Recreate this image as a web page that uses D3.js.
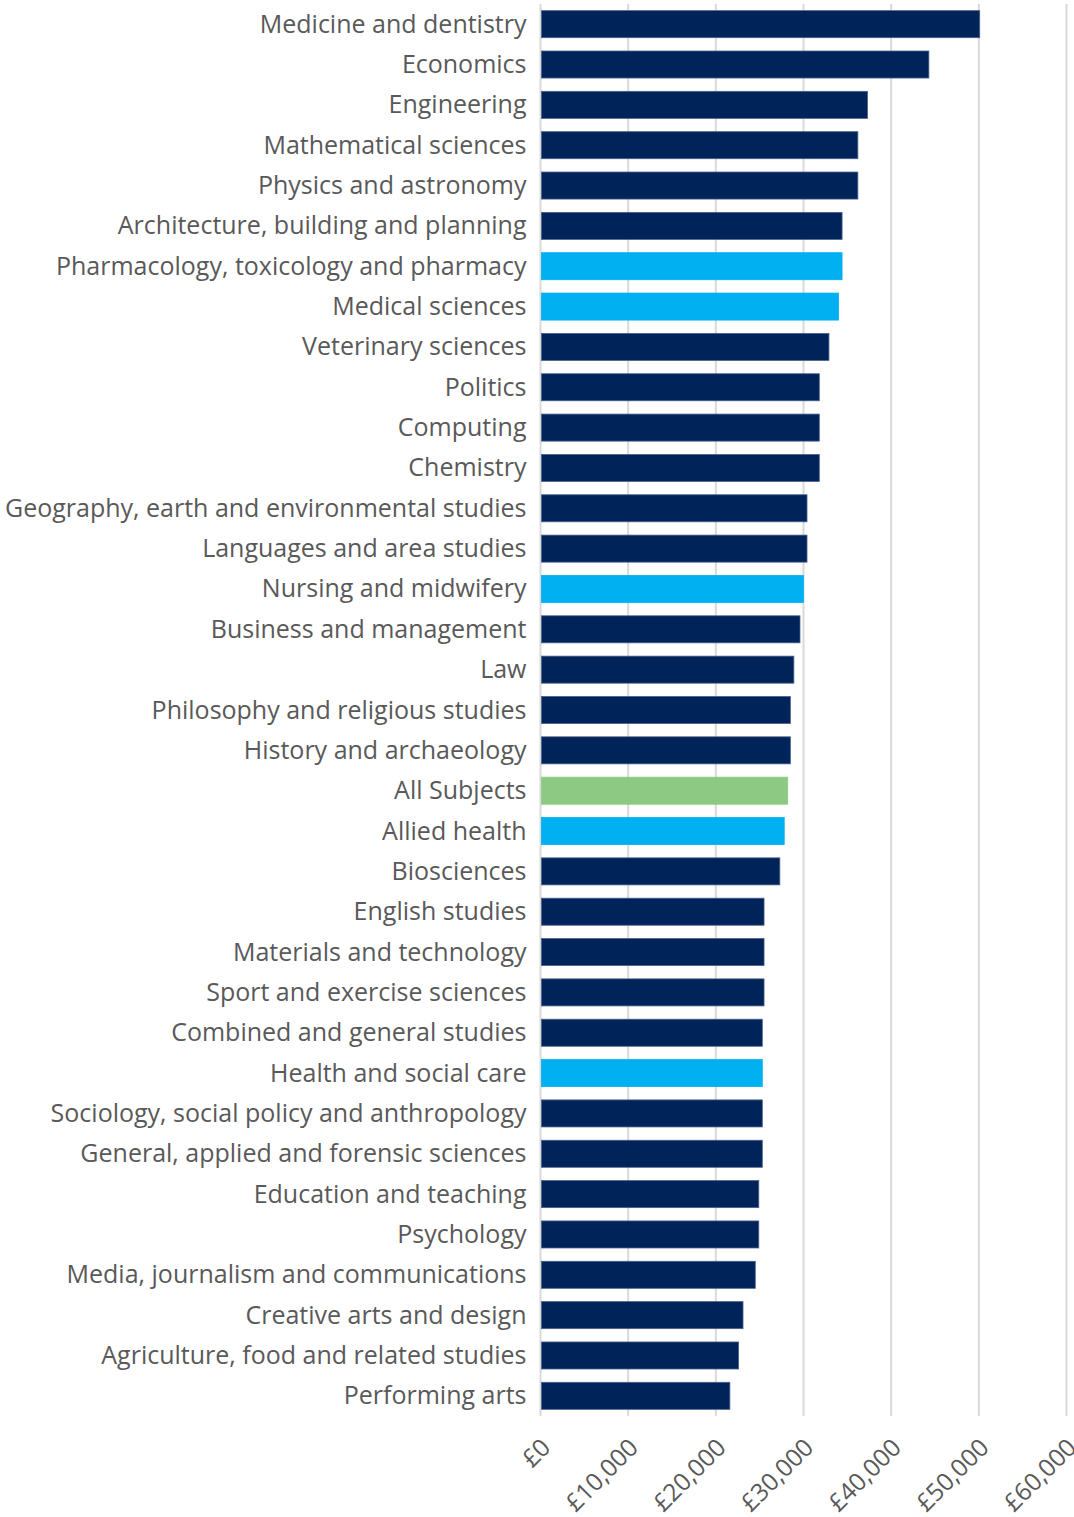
<!DOCTYPE html>
<html>
<head>
<meta charset="utf-8">
<script src="https://cdn.jsdelivr.net/npm/d3@7"></script>
<style>
  html, body { margin: 0; padding: 0; background: #fff; }
  svg { display: block; }
</style>
</head>
<body>
<svg id="chart" width="1074" height="1517"></svg>
<script>
// Median salary by subject area
const subjects = [
  "Medicine and dentistry", "Economics", "Engineering", "Mathematical sciences",
  "Physics and astronomy", "Architecture, building and planning",
  "Pharmacology, toxicology and pharmacy", "Medical sciences", "Veterinary sciences",
  "Politics", "Computing", "Chemistry", "Geography, earth and environmental studies",
  "Languages and area studies", "Nursing and midwifery", "Business and management",
  "Law", "Philosophy and religious studies", "History and archaeology", "All Subjects",
  "Allied health", "Biosciences", "English studies", "Materials and technology",
  "Sport and exercise sciences", "Combined and general studies", "Health and social care",
  "Sociology, social policy and anthropology", "General, applied and forensic sciences",
  "Education and teaching", "Psychology", "Media, journalism and communications",
  "Creative arts and design", "Agriculture, food and related studies", "Performing arts"
];

const salaries = [
  50100, 44300, 37300, 36200, 36200, 34400, 34400, 34000, 32900, 31800, 31800, 31800,
  30400, 30400, 30000, 29600, 28900, 28500, 28500, 28200, 27800, 27300, 25500, 25500,
  25500, 25300, 25300, 25300, 25300, 24900, 24900, 24500, 23100, 22600, 21600
];

// Subject groups: "health" subjects, the overall average, everything else
const groups = [
  "other", "other", "other", "other", "other", "other", "health", "health", "other",
  "other", "other", "other", "other", "other", "health", "other", "other", "other",
  "other", "all", "health", "other", "other", "other", "other", "other", "health",
  "other", "other", "other", "other", "other", "other", "other", "other"
];

const xTicks = [0, 10000, 20000, 30000, 40000, 50000, 60000];

const groupColor = { other: "#002359", health: "#00B0F0", all: "#8DC983" };
const groupStroke = { other: "#4a5f8c", health: "#00B0F0", all: "#8DC983" };

const rows = subjects.map((s, i) => ({ subject: s, value: salaries[i], group: groups[i] }));

const svg = d3.select("#chart");
const plotLeft = 540.5, plotRight = 1066.5, plotTop = 4, plotBottom = 1416;

const x = d3.scaleLinear().domain([0, 60000]).range([plotLeft, plotRight]);
const y = d3.scaleBand().domain(subjects).range([plotTop, plotBottom]).paddingInner(0.33).paddingOuter(0.165);

// vertical gridlines
svg.append("g")
  .selectAll("line")
  .data(xTicks)
  .join("line")
  .attr("x1", d => x(d)).attr("x2", d => x(d))
  .attr("y1", plotTop).attr("y2", plotBottom)
  .attr("stroke", "#d9d9d9")
  .attr("stroke-width", 2);

// bars
svg.append("g")
  .selectAll("rect")
  .data(rows)
  .join("rect")
  .attr("x", x(0) + 1)
  .attr("y", d => y(d.subject))
  .attr("width", d => x(d.value) - x(0) - 1)
  .attr("height", y.bandwidth())
  .attr("fill", d => groupColor[d.group])
  .attr("stroke", d => groupStroke[d.group])
  .attr("stroke-width", 0.8);

// category labels
const yAxis = d3.axisLeft(y).tickSize(0).tickPadding(14);
const gy = svg.append("g").attr("transform", `translate(${plotLeft},0)`).call(yAxis);
gy.select(".domain").remove();
gy.selectAll("text")
  .attr("fill", "#595959")
  .style("font-family", "'Open Sans', 'Noto Sans', sans-serif")
  .style("font-size", "25px")
  .attr("dy", "0.34em");

// value axis labels, rotated
const xAxis = d3.axisBottom(x).tickValues(xTicks).tickSize(0).tickFormat(d => "£" + d3.format(",")(d));
const gx = svg.append("g").attr("transform", `translate(0,${plotBottom})`).call(xAxis);
gx.select(".domain").remove();
gx.selectAll("text")
  .attr("fill", "#595959")
  .style("font-family", "'Open Sans', 'Noto Sans', sans-serif")
  .style("font-size", "24.5px")
  .attr("text-anchor", "end")
  .attr("y", 0)
  .attr("dy", 0)
  .attr("transform", "translate(11,33) rotate(-45)");
</script>
</body>
</html>
